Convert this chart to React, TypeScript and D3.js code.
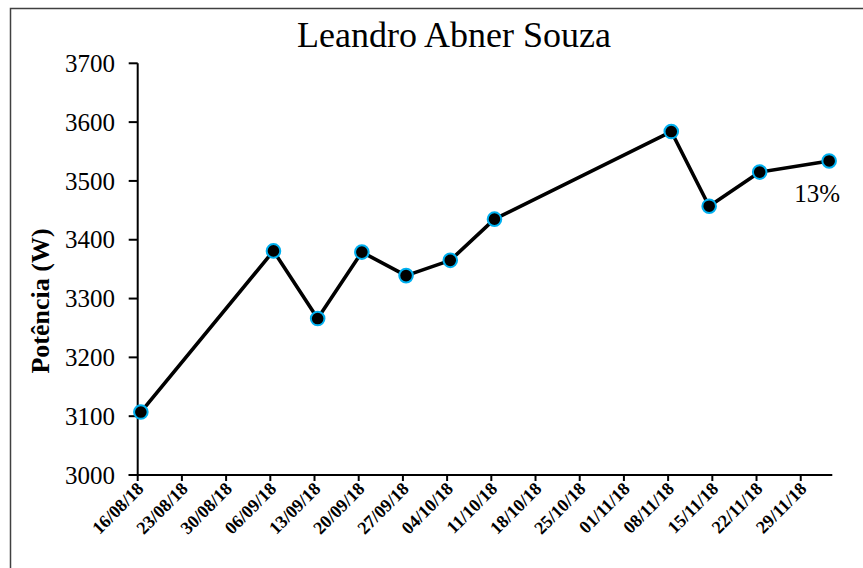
import React from "react";
import * as d3 from "d3";

const title = "Leandro Abner Souza";
const yLabel = "Potência (W)";
const dates = [
  "2018-08-16", "2018-09-06", "2018-09-13", "2018-09-20", "2018-09-27",
  "2018-10-04", "2018-10-11", "2018-11-08", "2018-11-14", "2018-11-22", "2018-12-03",
];
const values = [3107, 3381, 3266, 3379, 3339, 3365, 3435, 3584, 3457, 3515, 3534];
const yTicks = [3000, 3100, 3200, 3300, 3400, 3500, 3600, 3700];
const xStart = "2018-08-16";
const xEnd = "2018-12-04";
const tickEvery = 7;
const tickCount = 16;
const annotation = "13%";

const W = 863;
const H = 568;
const font = "'Liberation Serif', 'Times New Roman', serif";

const parse = (s: string) => {
  const [y, m, d] = s.split("-").map(Number);
  return new Date(Date.UTC(y, m - 1, d));
};

export default function App() {
  const left = 137.7;
  const right = 832.3;
  const top = 63.3;
  const bottom = 475;

  const x = d3.scaleUtc().domain([parse(xStart), parse(xEnd)]).range([left, right]);
  const y = d3.scaleLinear().domain([3000, 3700]).range([bottom, top]);

  const xTicks = d3.range(tickCount).map((i) => d3.utcDay.offset(parse(xStart), i * tickEvery));
  const fmt = d3.utcFormat("%d/%m/%y");

  const pts = dates.map((d, i) => ({
    x: x(d3.utcHour.offset(parse(d), 12)),
    y: y(values[i]),
  }));
  const line = d3.line<{ x: number; y: number }>().x((d) => d.x).y((d) => d.y);
  const last = pts[pts.length - 1];

  return (
    <svg
      width={W}
      height={H}
      style={{ position: "absolute", left: 0, top: 0, background: "#fff" }}
      fontFamily={font}
    >
      <rect x={0} y={0} width={W} height={H} fill="#fff" />
      <path d={`M10.5,${H + 2} V8.5 H${W + 2}`} fill="none" stroke="#404040" strokeWidth={1.5} />
      <text x={454} y={46.5} textAnchor="middle" fontSize={36} fill="#000">
        {title}
      </text>
      <text
        transform={`translate(49,301) rotate(-90)`}
        textAnchor="middle"
        fontSize={26}
        fontWeight="bold"
        fill="#000"
      >
        {yLabel}
      </text>
      {/* y axis */}
      <line x1={left} x2={left} y1={top} y2={bottom} stroke="#000" strokeWidth={2} />
      {yTicks.map((t) => (
        <g key={t}>
          <line x1={left - 9} x2={left} y1={y(t)} y2={y(t)} stroke="#000" strokeWidth={2} />
          <text x={115} y={y(t)} dy="0.35em" textAnchor="end" fontSize={25} fill="#000">
            {t}
          </text>
        </g>
      ))}
      {/* x axis */}
      <line x1={left - 9} x2={right} y1={bottom} y2={bottom} stroke="#000" strokeWidth={2} />
      {xTicks.map((t, i) => (
        <g key={i}>
          <line x1={x(t)} x2={x(t)} y1={bottom} y2={bottom + 6} stroke="#000" strokeWidth={2} />
          <text
            transform={`translate(${x(t) + 7},${bottom + 15}) rotate(-45)`}
            textAnchor="end"
            fontSize={18}
            fontWeight="bold"
            fill="#000"
          >
            {fmt(t)}
          </text>
        </g>
      ))}
      <path d={line(pts) || ""} fill="none" stroke="#000" strokeWidth={3.6} strokeLinejoin="round" />
      {pts.map((p, i) => (
        <circle key={i} cx={p.x} cy={p.y} r={6.8} fill="#000" stroke="#00b0f0" strokeWidth={2} />
      ))}
      <text x={last.x - 12} y={last.y + 41} textAnchor="middle" fontSize={25} fill="#000">
        {annotation}
      </text>
    </svg>
  );
}
